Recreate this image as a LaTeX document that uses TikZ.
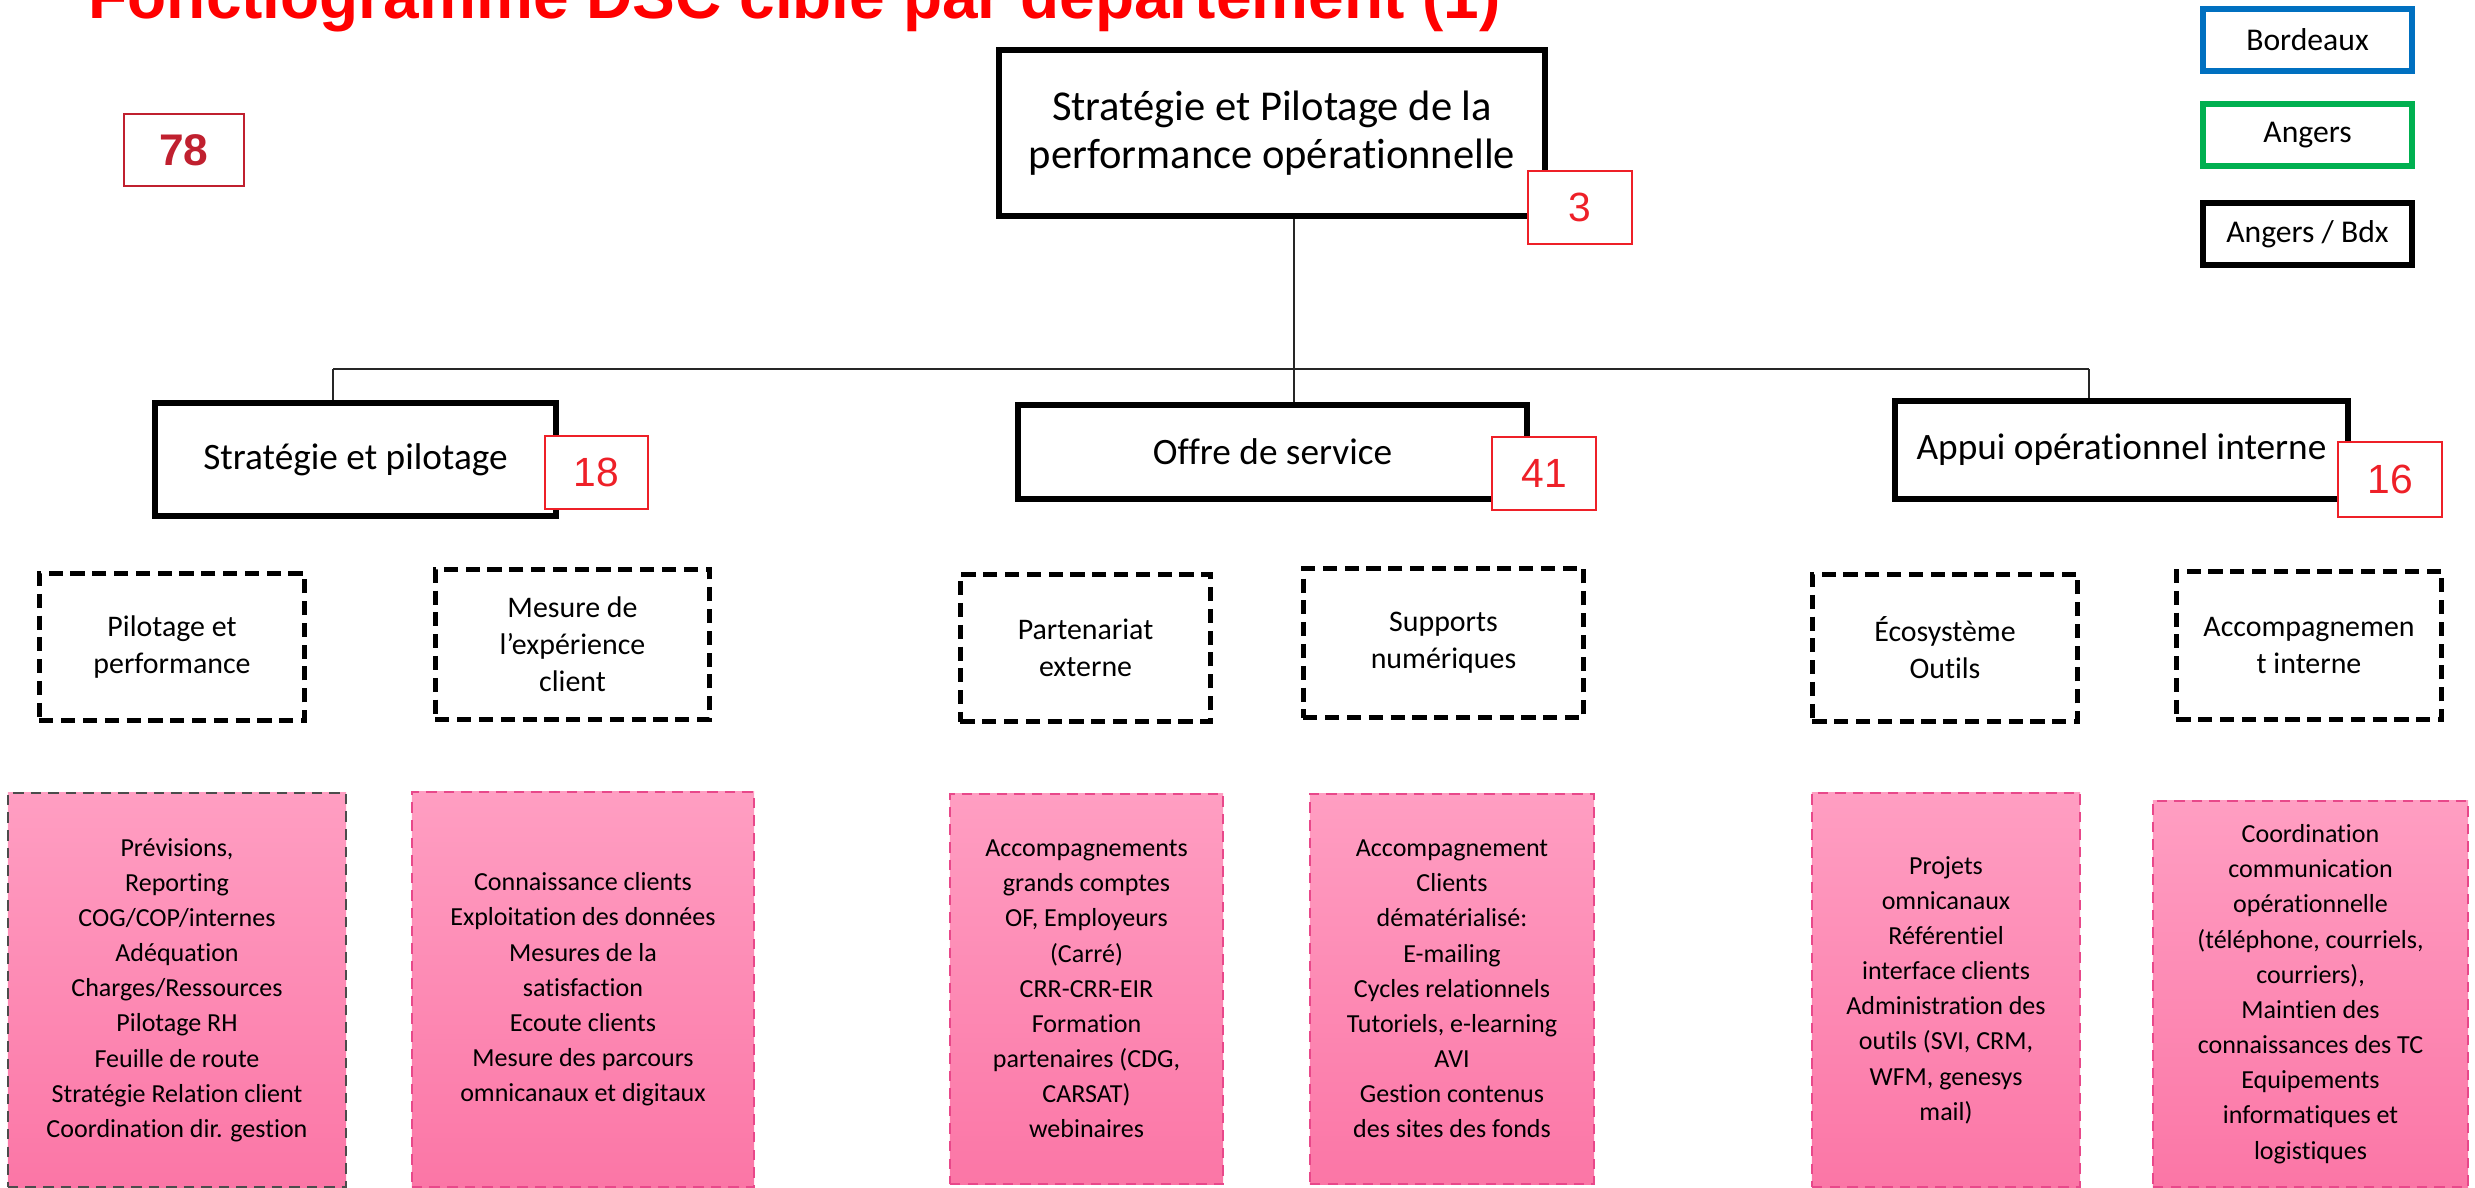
\documentclass[tikz,border=0pt]{standalone}
\usepackage{fontspec}
\setmainfont{Carlito}[Ligatures={NoCommon}]
\newfontfamily\arialfont{Liberation Sans}
\definecolor{titreRouge}{HTML}{FF0000}
\definecolor{effRouge}{HTML}{EE2028}
\definecolor{totRouge}{HTML}{C0202F}
\definecolor{roseHaut}{HTML}{FF9EC2}
\definecolor{roseBas}{HTML}{FB76A6}
\definecolor{roseTrait}{HTML}{E8488A}
\definecolor{bleuBdx}{HTML}{0070C0}
\definecolor{vertAng}{HTML}{00B050}
\tikzset{
  titre/.style={anchor=base west, inner sep=0pt, text=titreRouge, font=\arialfont\bfseries\fontsize{18.2}{20}\selectfont},
  total/.style={draw=totRouge, line width=0.6pt, text=totRouge, inner sep=0pt, font=\arialfont\bfseries\fontsize{12.6}{14}\selectfont},
  direction/.style={draw, line width=1.7pt, align=center, inner sep=0pt, font=\fontsize{12.1}{13.7}\selectfont},
  departement/.style={draw, line width=1.7pt, align=center, inner sep=0pt, font=\fontsize{10.6}{12}\selectfont},
  effectif/.style={draw=effRouge, fill=white, line width=0.6pt, text=effRouge, inner sep=0pt, font=\arialfont\fontsize{11.6}{13}\selectfont},
  pole/.style={draw, line width=1.4pt, dash pattern=on 4pt off 2.2pt, align=center, inner sep=0pt, font=\fontsize{8.5}{10.5}\selectfont},
  mission/.style={top color=roseHaut, bottom color=roseBas, draw=roseTrait, line width=0.5pt, densely dashed, align=center, inner sep=0pt, font=\fontsize{7.4}{10}\selectfont},
  legende/.style={line width=1.7pt, inner sep=0pt, minimum width=2.09cm, minimum height=0.62cm, font=\fontsize{9}{10}\selectfont},
  lien/.style={draw=black!85, line width=0.35pt}
}
\begin{document}
\begin{tikzpicture}[x=0.01cm,y=-0.01cm]
\useasboundingbox (0,0) rectangle (2475,1188);

\node[titre] (titre) at (88,19) {Fonctiogramme DSC cible par département (1)};
\node[total, minimum width=1.20cm, minimum height=0.72cm] (total) at (184,150) {78};

\node[legende, draw=bleuBdx] (bordeaux) at (2307.5,40) {Bordeaux};
\node[legende, draw=vertAng] (angers) at (2307.5,135) {Angers};
\node[legende, draw=black] (angersbdx) at (2307.5,234) {Angers / Bdx};

\node[direction, minimum width=5.46cm, minimum height=1.66cm] (dir) at (1272,133) {Stratégie et Pilotage de la\\performance opérationnelle};
\node[effectif, minimum width=1.04cm, minimum height=0.73cm] (dirN) at (1580,207.5) {3};

\node[departement, minimum width=4.01cm, minimum height=1.13cm] (strat) at (355.5,459.5) {Stratégie et pilotage};
\node[departement, minimum width=5.09cm, minimum height=0.94cm] (offre) at (1272.5,452) {Offre de service};
\node[departement, minimum width=4.53cm, minimum height=0.98cm] (appui) at (2121.5,450) {Appui opérationnel interne};

\coordinate (busL) at (333,369);
\coordinate (tronc) at (1294,369);
\coordinate (busR) at (2089,369);
\draw[lien] (busL) -- (busR);
\draw[lien] (dir.south -| tronc) -- (tronc);
\draw[lien] (tronc) -- (offre.north -| tronc);
\draw[lien] (busL) -- (strat.north -| busL);
\draw[lien] (busR) -- (appui.north -| busR);

\node[effectif, minimum width=1.03cm, minimum height=0.73cm] (stratN) at (596.5,472.5) {18};
\node[effectif, minimum width=1.04cm, minimum height=0.73cm] (offreN) at (1544,473.5) {41};
\node[effectif, minimum width=1.04cm, minimum height=0.75cm] (appuiN) at (2390,479.5) {16};

\node[pole, minimum width=2.65cm, minimum height=1.47cm] (pilot) at (172,647) {Pilotage et\\performance};
\node[pole, minimum width=2.74cm, minimum height=1.50cm] (mesure) at (572.5,644.5) {Mesure de\\l’expérience\\client};
\node[pole, minimum width=2.50cm, minimum height=1.47cm] (parten) at (1085.5,648) {Partenariat\\externe};
\node[pole, minimum width=2.80cm, minimum height=1.49cm] (supports) at (1443.5,643) {Supports\\numériques};
\node[pole, minimum width=2.65cm, minimum height=1.47cm] (ecosys) at (1945,648) {Écosystème\\Outils};
\node[pole, minimum width=2.65cm, minimum height=1.48cm] (accomp) at (2309,645.5) {Accompagnemen\\t interne};

\node[mission, draw=black!70, minimum width=3.38cm, minimum height=3.94cm] (pilotM) at (177,990) {Prévisions,\\Reporting\\COG/COP/internes\\Adéquation\\Charges/Ressources\\Pilotage RH\\Feuille de route\\Stratégie Relation client\\Coordination dir. gestion};
\node[mission, minimum width=3.42cm, minimum height=3.95cm] (mesureM) at (583,989.5) {Connaissance clients\\Exploitation des données\\Mesures de la\\satisfaction\\Ecoute clients\\Mesure des parcours\\omnicanaux et digitaux};
\node[mission, minimum width=2.73cm, minimum height=3.90cm] (partenM) at (1086.5,989) {Accompagnements\\grands comptes\\OF, Employeurs\\(Carré)\\CRR-CRR-EIR\\Formation\\partenaires (CDG,\\CARSAT)\\webinaires};
\node[mission, minimum width=2.84cm, minimum height=3.90cm] (supportsM) at (1452,989) {Accompagnement\\Clients\\dématérialisé:\\E-mailing\\Cycles relationnels\\Tutoriels, e-learning\\AVI\\Gestion contenus\\des sites des fonds};
\node[mission, minimum width=2.68cm, minimum height=3.94cm] (ecosysM) at (1946,990) {Projets\\omnicanaux\\Référentiel\\interface clients\\Administration des\\outils (SVI, CRM,\\WFM, genesys\\mail)};
\node[mission, minimum width=3.15cm, minimum height=3.86cm] (accompM) at (2310.5,994) {Coordination\\communication\\opérationnelle\\(téléphone, courriels,\\courriers),\\Maintien des\\connaissances des TC\\Equipements\\informatiques et\\logistiques};
\end{tikzpicture}
\end{document}
